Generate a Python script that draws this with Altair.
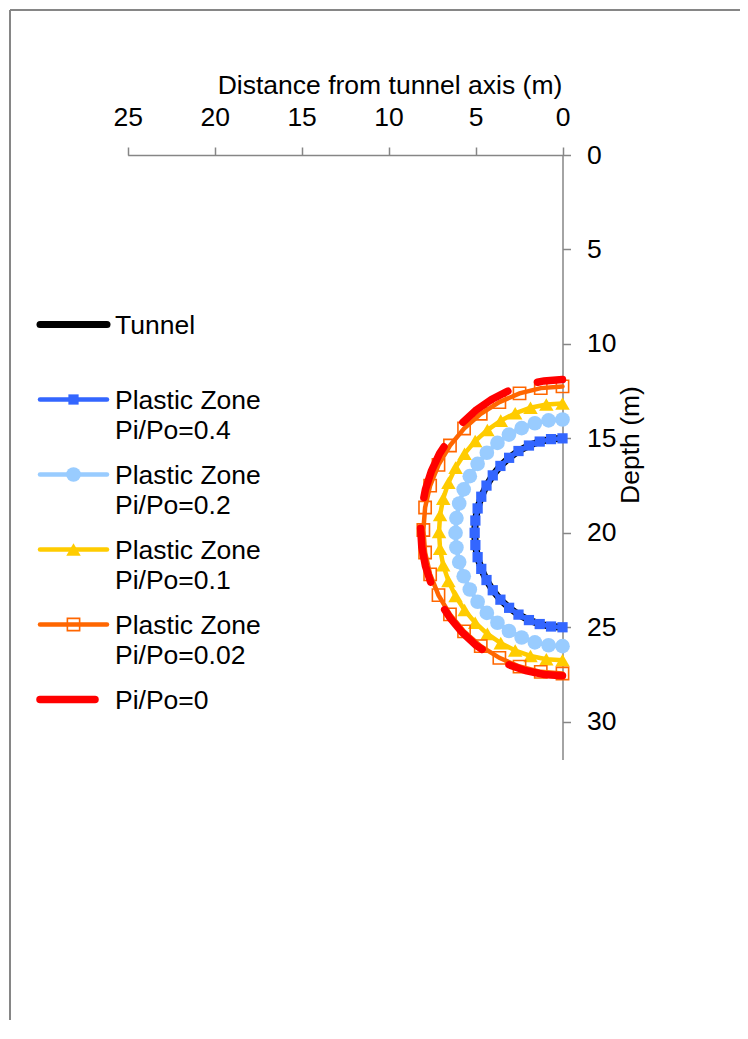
import altair as alt
import pandas as pd

# ---------------- data ----------------
keys = ["tunnel", "pz04", "pz02", "pz01", "pz002", "pi0"]
labels = ["Tunnel", "Plastic Zone\nPi/Po=0.4", "Plastic Zone\nPi/Po=0.2",
          "Plastic Zone\nPi/Po=0.1", "Plastic Zone\nPi/Po=0.02", "Pi/Po=0"]
colors = ["#000000", "#3366FF", "#99CCFF", "#FFCC00", "#FF6600", "#FF0000"]

tunnel_x = [0, 0.66, 1.31, 1.93, 2.53, 3.07, 3.57, 4.01, 4.37, 4.67, 4.88, 5.01, 5.05,
            5.01, 4.88, 4.67, 4.37, 4.01, 3.57, 3.07, 2.53, 1.93, 1.31, 0.66, 0]
tunnel_y = [15.00, 15.04, 15.17, 15.38, 15.67, 16.03, 16.46, 16.96, 17.50, 18.09, 18.71, 19.35, 20.00,
            20.65, 21.29, 21.91, 22.50, 23.04, 23.54, 23.97, 24.33, 24.62, 24.83, 24.96, 25.00]

pz04_x = [0, 0.66, 1.31, 1.93, 2.53, 3.07, 3.57, 4.01, 4.37, 4.67, 4.88, 5.01, 5.05,
          5.01, 4.88, 4.67, 4.37, 4.01, 3.57, 3.07, 2.53, 1.93, 1.31, 0.66, 0]
pz04_y = [15.00, 15.04, 15.17, 15.38, 15.67, 16.03, 16.46, 16.96, 17.50, 18.09, 18.71, 19.35, 20.00,
          20.65, 21.29, 21.91, 22.50, 23.04, 23.54, 23.97, 24.33, 24.62, 24.83, 24.96, 25.00]

pz02_x = [0, 0.80, 1.59, 2.35, 3.08, 3.74, 4.35, 4.88, 5.33, 5.68, 5.94, 6.10, 6.15,
          6.10, 5.94, 5.68, 5.33, 4.88, 4.35, 3.74, 3.08, 2.35, 1.59, 0.80, 0]
pz02_y = [14.00, 14.05, 14.20, 14.46, 14.80, 15.24, 15.76, 16.35, 17.00, 17.70, 18.45, 19.22, 20.00,
          20.78, 21.55, 22.30, 23.00, 23.65, 24.24, 24.76, 25.20, 25.54, 25.80, 25.95, 26.00]

pz01_x = [0, 0.93, 1.84, 2.72, 3.55, 4.32, 5.02, 5.63, 6.15, 6.56, 6.86, 7.04, 7.10,
          7.04, 6.86, 6.56, 6.15, 5.63, 5.02, 4.32, 3.55, 2.72, 1.84, 0.93, 0]
pz01_y = [13.15, 13.21, 13.38, 13.67, 14.06, 14.56, 15.14, 15.81, 16.55, 17.35, 18.19, 19.06, 19.95,
          20.84, 21.71, 22.55, 23.35, 24.09, 24.76, 25.35, 25.84, 26.23, 26.52, 26.69, 26.75]

pz002_x = [0, 1.25, 2.47, 3.63, 4.70, 5.66, 6.47, 7.13, 7.61, 7.90, 8.00,
           7.90, 7.61, 7.13, 6.47, 5.66, 4.70, 3.63, 2.47, 1.25, 0]
pz002_y = [12.25, 12.34, 12.62, 13.08, 13.70, 14.48, 15.38, 16.40, 17.50, 18.66, 19.85,
           21.04, 22.20, 23.30, 24.32, 25.22, 26.00, 26.62, 27.08, 27.36, 27.45]

# drawn from the bottom upwards (dash pattern starts at the bottom)
pi0_x = [0, 1.06, 2.11, 3.12, 4.08, 4.97, 5.77, 6.47, 7.07, 7.54, 7.88, 8.09, 8.16,
         8.09, 7.88, 7.54, 7.07, 6.47, 5.77, 4.97, 4.08, 3.12, 2.11, 1.06, 0]
pi0_y = [27.57, 27.50, 27.30, 26.97, 26.52, 25.95, 25.27, 24.50, 23.65, 22.73, 21.76, 20.75, 19.73,
         18.71, 17.70, 16.73, 15.81, 14.96, 14.19, 13.51, 12.94, 12.49, 12.16, 11.96, 11.89]

x_ticks = [0, 5, 10, 15, 20, 25]
y_ticks = [0, 5, 10, 15, 20, 25, 30]

# ---------------- tables ----------------
series_xy = {
    "tunnel": (tunnel_x, tunnel_y), "pz04": (pz04_x, pz04_y), "pz02": (pz02_x, pz02_y),
    "pz01": (pz01_x, pz01_y), "pz002": (pz002_x, pz002_y), "pi0": (pi0_x, pi0_y),
}
rows = []
for k, (xs, ys) in series_xy.items():
    for i, (xv, yv) in enumerate(zip(xs, ys)):
        rows.append({"key": k, "idx": i, "x": xv, "y": yv})
df = pd.DataFrame(rows)
leg = pd.DataFrame({"key": keys, "row": list(range(len(keys))), "label": labels})

# ---------------- layout ----------------
W, H = 730, 1010
FONT = "Liberation Sans"
FS = 26.5
GRAY = "#868686"
col = dict(zip(keys, colors))

XSC = alt.Scale(domain=[0, 25], range=[552.5, 117.7], nice=False, zero=False)
YSC = alt.Scale(domain=[0, 32], range=[145, 749.5], nice=False, zero=False)
LXSC = alt.Scale(domain=[0, 1], range=[30, 97], nice=False, zero=False)
LYSC = alt.Scale(domain=[0, 5], range=[314.5, 689.5], nice=False, zero=False)

x_axis = alt.Axis(orient="top", offset=-145, values=x_ticks, tickSize=8, labelPadding=22,
                  labelBaseline="alphabetic", labelFlush=False, labelOverlap=False, grid=False,
                  title="Distance from tunnel axis (m)", titleX=379.5, titleY=-61.7,
                  titleAlign="center", titleBaseline="alphabetic", titleAngle=0)
y_axis = alt.Axis(orient="right", offset=552.5 - W, values=y_ticks, tickSize=8, labelPadding=16,
                  labelBaseline="middle", labelAlign="left", labelFlush=False, labelOverlap=False,
                  grid=False, title="Depth (m)", titleAngle=270, titleX=75.5, titleY=434.5,
                  titleAlign="center", titleBaseline="alphabetic")


def mx(axis=None):
    return alt.X("x:Q", scale=XSC, axis=axis)


def my(axis=None):
    return alt.Y("y:Q", scale=YSC, axis=axis)


def ly():
    return alt.Y("row:Q", scale=LYSC, axis=None)


def sel(ks):
    return df[df["key"].isin(ks)]


def lsel(ks):
    return leg[leg["key"].isin(ks)]


one = pd.DataFrame({"a": [0]})
border_top = alt.Chart(one).mark_rule(color=GRAY, strokeWidth=2).encode(
    x=alt.value(0), x2=alt.value(W), y=alt.value(0))
border_left = alt.Chart(one).mark_rule(color=GRAY, strokeWidth=2).encode(
    x=alt.value(0), y=alt.value(0), y2=alt.value(H))

tunnel_line = alt.Chart(sel(["tunnel"])).mark_line(
    color=col["tunnel"], strokeWidth=7, strokeCap="round").encode(
    x=mx(x_axis), y=my(y_axis), order="idx:Q")

pz_keys = ["pz04", "pz02", "pz01", "pz002"]
pz_lines = alt.Chart(sel(pz_keys)).mark_line(strokeWidth=4.5, strokeCap="round").encode(
    x=mx(), y=my(), order="idx:Q",
    color=alt.Color("key:N", scale=alt.Scale(domain=pz_keys, range=[col[k] for k in pz_keys]),
                    legend=None))

SZ = {"pz04": 105, "pz02": 215, "pz01": 210, "pz002": 150}

m04 = alt.Chart(sel(["pz04"])).mark_point(shape="square", filled=True, size=SZ["pz04"], opacity=1,
                                          color=col["pz04"]).encode(x=mx(), y=my())
m02 = alt.Chart(sel(["pz02"])).mark_point(shape="circle", filled=True, size=SZ["pz02"], opacity=1,
                                          color=col["pz02"]).encode(x=mx(), y=my())
m01 = alt.Chart(sel(["pz01"])).mark_point(shape="triangle-up", filled=True, size=SZ["pz01"], opacity=1,
                                          color=col["pz01"]).encode(x=mx(), y=my())
m002 = alt.Chart(sel(["pz002"])).mark_point(shape="square", filled=False, size=SZ["pz002"], opacity=1,
                                            strokeWidth=1.6, color=col["pz002"]).encode(x=mx(), y=my())

red_line = alt.Chart(sel(["pi0"])).mark_line(
    color=col["pi0"], strokeWidth=7.5, strokeCap="round", strokeDash=[55, 31]).encode(
    x=mx(), y=my(), order="idx:Q")

# ---------------- legend ----------------
def lrule(ks, **kw):
    return alt.Chart(lsel(ks)).mark_rule(strokeCap="round", **kw).encode(
        x=alt.XDatum(0, type="quantitative", scale=LXSC, axis=None),
        x2=alt.X2Datum(1), y=ly())


leg_tunnel = lrule(["tunnel"], color=col["tunnel"], strokeWidth=7)
leg_pz = alt.Chart(lsel(pz_keys)).mark_rule(strokeCap="round", strokeWidth=4.5).encode(
    x=alt.XDatum(0, type="quantitative", scale=LXSC, axis=None),
    x2=alt.X2Datum(1), y=ly(),
    color=alt.Color("key:N", scale=alt.Scale(domain=pz_keys, range=[col[k] for k in pz_keys]),
                    legend=None))
leg_red = lrule(["pi0"], color=col["pi0"], strokeWidth=7.5, strokeDash=[55, 31])


def lmark(k, **kw):
    return alt.Chart(lsel([k])).mark_point(opacity=1, color=col[k], **kw).encode(
        x=alt.XDatum(0.5, type="quantitative", scale=LXSC, axis=None), y=ly())


lm04 = lmark("pz04", shape="square", filled=True, size=SZ["pz04"])
lm02 = lmark("pz02", shape="circle", filled=True, size=SZ["pz02"])
lm01 = lmark("pz01", shape="triangle-up", filled=True, size=SZ["pz01"])
lm002 = lmark("pz002", shape="square", filled=False, size=SZ["pz002"], strokeWidth=1.6)

leg_text = alt.Chart(leg).mark_text(
    align="left", baseline="alphabetic", dx=8, dy=9.8, lineBreak="\n", lineHeight=30,
    fontSize=FS, font=FONT, color="black").encode(
    x=alt.XDatum(1, type="quantitative", scale=LXSC, axis=None), y=ly(), text="label:N")

chart = alt.layer(
    border_top, border_left, tunnel_line, pz_lines, m04, m02, m01, m002, red_line,
    leg_tunnel, leg_pz, leg_red, lm04, lm02, lm01, lm002, leg_text
).resolve_scale(
    x="independent", y="independent", color="independent"
).properties(
    width=W, height=H,
    padding={"left": 2, "top": 2, "right": 0, "bottom": 0},
    autosize=alt.AutoSizeParams(type="none"),
    background="white",
).configure_view(
    stroke="transparent"
).configure_axis(
    labelFont=FONT, titleFont=FONT, labelFontSize=FS, titleFontSize=FS,
    labelColor="black", titleColor="black", titleFontWeight="normal",
    domainColor=GRAY, tickColor=GRAY, domainWidth=1.5, tickWidth=1.5, grid=False,
)

chart.save("out.html", embed_options={"renderer": "svg", "actions": False})
